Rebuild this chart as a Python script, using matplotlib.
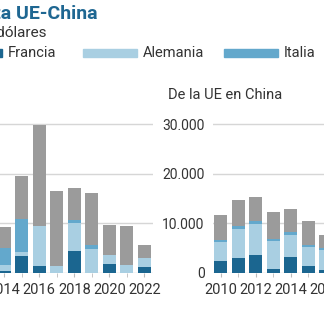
import numpy as np
import matplotlib.pyplot as plt

plt.rcParams['font.family'] = ['Roboto', 'DejaVu Sans']

# De China en la UE (millones de dólares)
years_in = [2014, 2015, 2016, 2017, 2018, 2019, 2020, 2021, 2022]
francia_in = [500, 3500, 1480, 0, 4380, 0, 1820, 0, 1140]
alemania_in = [1100, 740, 7950, 1480, 5720, 4920, 1750, 1680, 1890]
italia_in = [3500, 6730, 0, 0, 540, 670, 0, 0, 0]
resto_in = [4200, 8690, 20540, 15020, 6530, 10570, 6200, 7740, 2690]

# De la UE en China
years_out = [2010, 2011, 2012, 2013, 2014, 2015, 2016]
francia_out = [2360, 3030, 3570, 880, 3230, 1350, 670]
alemania_out = [3840, 5860, 6330, 5660, 4510, 3840, 4040]
italia_out = [540, 540, 540, 400, 470, 540, 400]
resto_out = [5050, 5390, 4920, 5320, 4710, 4710, 2500]

yticks = [0, 10000, 20000, 30000]
ylabels = ['0', '10.000', '20.000', '30.000']

c_fr = '#1b6690'
c_al = '#a9cfe2'
c_it = '#63a8cc'
c_re = '#9b9b9b'
txt = '#333333'

W = H = 324.0
fig = plt.figure(figsize=(3.24, 3.24), dpi=100)


def px(x0, y0, w, h):
  # pixel box (from top-left) to figure fraction
  return [x0 / W, 1 - (y0 + h) / H, w / W, h / H]


def panel(ax, years, fr, al, it, re):
  years = np.array(years)
  b = np.zeros(len(years))
  for vals, col in [(fr, c_fr), (al, c_al), (it, c_it), (re, c_re)]:
    ax.bar(years, vals, bottom=b, width=0.74, color=col, zorder=3)
    b = b + np.array(vals)
  ax.set_xlim(2009.55, 2022.5)
  ax.set_ylim(0, 31000)
  ax.set_yticks(yticks)
  ax.set_yticklabels(ylabels, fontsize=10, color=txt)
  ax.set_xticks(range(years[0], years[-1] + 1, 2))
  ax.set_xticks(range(2010, 2023), minor=True)
  ax.tick_params(axis='x', which='both', length=3, color='#bbbbbb',
                 labelsize=10.5, labelcolor=txt, pad=4)
  ax.tick_params(axis='y', length=0, pad=6)
  ax.grid(axis='y', color='#d6d6d6', lw=1, zorder=0)
  for s in ax.spines.values():
    s.set_visible(False)


ax1 = fig.add_axes(px(-73.6, 119.5, 226.6, 153.5))
panel(ax1, years_in, francia_in, alemania_in, italia_in, resto_in)
ax1.tick_params(axis='y', labelleft=False)

ax2 = fig.add_axes(px(213, 119.5, 226.6, 153.5))
panel(ax2, years_out, francia_out, alemania_out, italia_out, resto_out)
ax2.text(168 / W, 1 - 95 / H, 'De la UE en China', transform=fig.transFigure,
         fontsize=10.5, color=txt, ha='left', va='center')

fig.text(98 / W, 1 - 14 / H, 'Inversión directa UE-China', fontsize=14,
         fontweight='bold', color='#1f6792', ha='right', va='center')
fig.text(46 / W, 1 - 33 / H, 'En millones de dólares', fontsize=11,
         color=txt, ha='right', va='center')

# leyenda
for x0, x1, col, name in [(-50, 2, c_fr, 'Francia'), (83, 137, c_al, 'Alemania'),
                          (224, 278, c_it, 'Italia')]:
  fig.patches.append(plt.Rectangle((x0 / W, 1 - 57 / H), (x1 - x0) / W, 8 / H,
                                   color=col, transform=fig.transFigure))
  fig.text((x1 + 6) / W, 1 - 53 / H, name, fontsize=10.5, color=txt,
           ha='left', va='center')

fig.savefig('out.png', dpi=100)
